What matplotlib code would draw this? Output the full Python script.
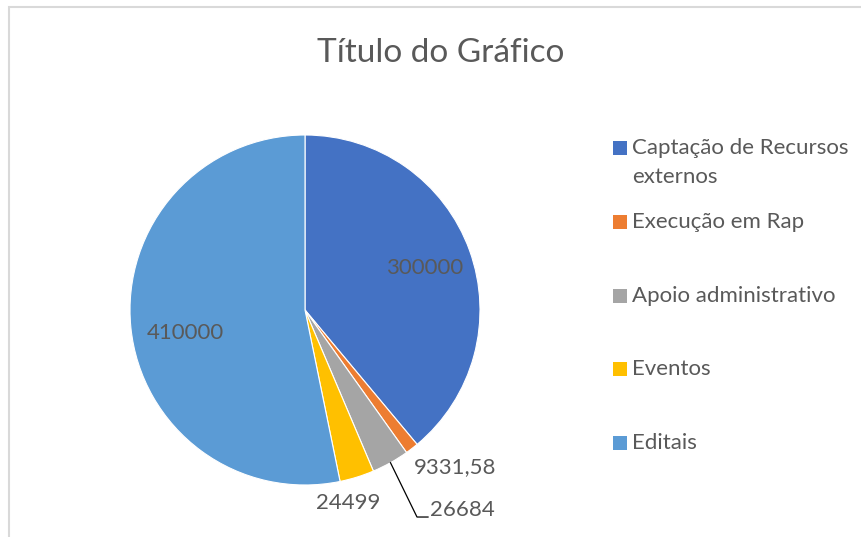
import numpy as np
import matplotlib
matplotlib.use("Agg")
from matplotlib import pyplot as plt
from matplotlib.patches import Rectangle

plt.rcParams['font.family'] = ['Lato', 'DejaVu Sans']

categories = ["Captação de Recursos\nexternos", "Execução em Rap",
              "Apoio administrativo", "Eventos", "Editais"]
values = [300000, 9331.58, 26684, 24499, 410000]
value_labels = ["300000", "9331,58", "26684", "24499", "410000"]
colors = ["#4472C4", "#ED7D31", "#A5A5A5", "#FFC000", "#5B9BD5"]

# where Excel placed the data labels (pie radius = 1)
label_pos = [(0.686, 0.24), (0.857, -0.897), (0.897, -1.143),
             (0.246, -1.103), (-0.686, -0.131)]

W, H = 862, 537
fig = plt.figure(figsize=(W / 100, H / 100), dpi=100)
txt = "#595959"

# chart area border
fig.add_artist(Rectangle((9 / W, -0.1), 1.2, 1.1 - 7 / H, transform=fig.transFigure,
                         fill=False, edgecolor="#D9D9D9", linewidth=1.5))

cx, cy, r = 305, 310, 175
ax = fig.add_axes([(cx - r) / W, (H - cy - r) / H, 2 * r / W, 2 * r / H])
wedges, _ = ax.pie(values, colors=colors, startangle=90, counterclock=False,
                   radius=1, wedgeprops=dict(edgecolor="white", linewidth=0.8))
ax.set_xlim(-1, 1)
ax.set_ylim(-1, 1)
ax.axis("off")

for (x, y), lab in zip(label_pos, value_labels):
    ax.text(x, y, lab, ha="center", va="center", fontsize=16, color=txt)

# leader line for the gray slice
w = wedges[2]
mid = np.deg2rad((w.theta1 + w.theta2) / 2)
ax.plot([np.cos(mid), 0.64, 0.703], [np.sin(mid), -1.183, -1.183],
        color="black", linewidth=0.9, clip_on=False)

fig.text(441 / W, 1 - 53 / H, "Título do Gráfico", ha="center", va="center",
         fontsize=24, color=txt)

# legend
leg_y = [148, 222, 296, 369, 443]
for yy, lab, c in zip(leg_y, categories, colors):
    fig.add_artist(Rectangle((613 / W, 1 - (yy + 7) / H), 14 / W, 14 / H,
                             transform=fig.transFigure, facecolor=c, edgecolor="none"))
    ty = yy + 14.5 * lab.count("\n")
    fig.text(632 / W, 1 - ty / H, lab, ha="left", va="center",
             fontsize=16, color=txt, linespacing=1.55)

fig.savefig("out.png", dpi=100)
